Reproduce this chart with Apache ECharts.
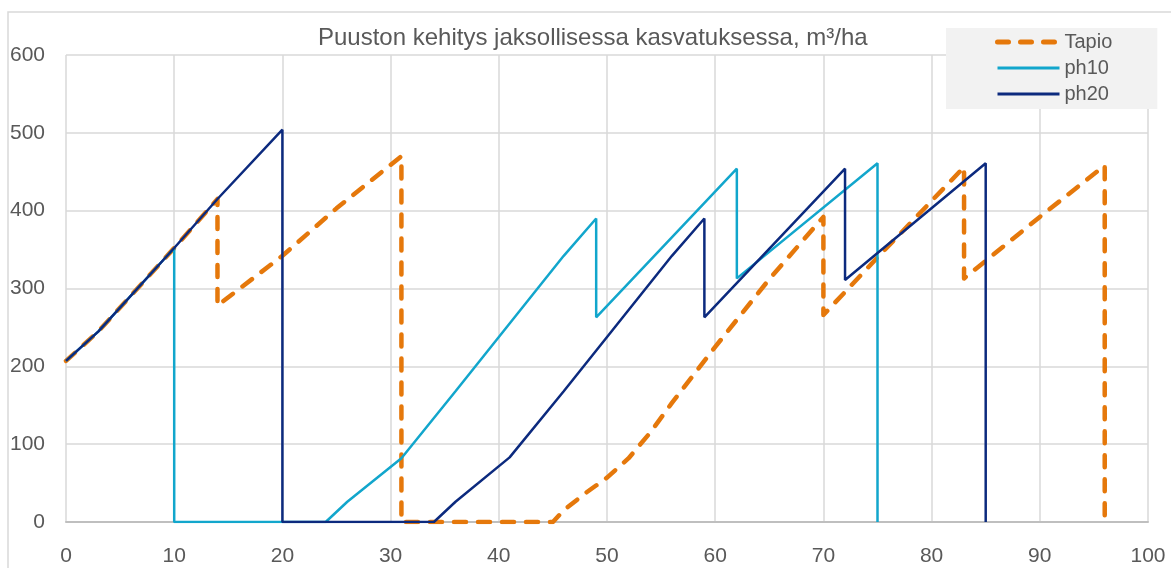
<!DOCTYPE html>
<html>
<head>
<meta charset="utf-8">
<script src="https://cdn.jsdelivr.net/npm/echarts@6/dist/echarts.min.js"></script>
<style>
  html, body { margin: 0; padding: 0; background: #fff; }
  #chart { width: 1171px; height: 568px; }
</style>
</head>
<body>
<div id="chart"></div>
<script>
// [vuosi, m3/ha]
const tapio = [
  [0, 207], [3, 245], [10, 352], [14, 415], [14, 278], [20, 342], [25, 403], [31, 470], [31, 0],
  [45, 0], [46, 15], [48, 37], [50, 57], [52, 82], [54, 115], [56, 153], [60, 225], [65, 312],
  [70, 392], [70, 266], [75, 340], [83, 456], [83, 313], [90, 392], [96, 458], [96, 0]
];
const ph10 = [
  [0, 207], [3, 245], [10, 352], [10, 0], [24, 0], [26, 26], [31, 82], [36, 168], [41, 255],
  [46, 342], [49, 390], [49, 263], [62, 454], [62, 313], [75, 461], [75, 0]
];
const ph20 = [
  [0, 207], [3, 245], [10, 352], [14, 415], [20, 504], [20, 0], [34, 0], [36, 26], [41, 83],
  [46, 168], [51, 255], [56, 342], [59, 390], [59, 263], [72, 454], [72, 311], [85, 461], [85, 0]
];
const seriesNames = ['Tapio', 'ph10', 'ph20'];
const title = 'Puuston kehitys jaksollisessa kasvatuksessa, m³/ha';

const FONT = '"Liberation Sans", "DejaVu Sans", sans-serif';
const COLORS = { text: '#595959', grid: '#d9d9d9', axis: '#bfbfbf', tapio: '#e5780b', ph10: '#12a6cc', ph20: '#0c2a7e' };

const chart = echarts.init(document.getElementById('chart'), null, { renderer: 'canvas' });
chart.setOption({
  backgroundColor: '#fff',
  animation: false,
  textStyle: { fontFamily: FONT },
  graphic: [{
    type: 'rect', z: -10, silent: true,
    shape: { x: 8, y: 12, width: 1200, height: 600 },
    style: { fill: 'none', stroke: COLORS.grid, lineWidth: 1.5 }
  }],
  title: {
    text: title, left: 318, top: 26, padding: 0,
    textStyle: { fontFamily: FONT, fontSize: 24, fontWeight: 'normal', color: COLORS.text }
  },
  legend: {
    data: [
      { name: seriesNames[0], lineStyle: { width: 5, type: [11, 12], cap: 'round' } },
      { name: seriesNames[1], lineStyle: { width: 3 } },
      { name: seriesNames[2], lineStyle: { width: 3 } }
    ],
    orient: 'vertical', left: 946, top: 28,
    backgroundColor: '#f2f2f2', padding: [4, 45, 5, 49],
    itemWidth: 62, itemHeight: 14, itemGap: 6,
    itemStyle: { opacity: 0 },
    textStyle: { fontFamily: FONT, fontSize: 20, color: COLORS.text, lineHeight: 20 }
  },
  grid: { left: 66, right: 23, top: 55, bottom: 46 },
  xAxis: {
    type: 'value', min: 0, max: 100, interval: 10,
    axisLine: { show: true, onZero: true, lineStyle: { color: COLORS.axis, width: 2 } },
    axisTick: { show: false },
    axisLabel: { color: COLORS.text, fontSize: 21, margin: 24, fontFamily: FONT },
    splitLine: { show: true, lineStyle: { color: COLORS.grid, width: 1.5 } }
  },
  yAxis: {
    type: 'value', min: 0, max: 600, interval: 100,
    axisLine: { show: false },
    axisTick: { show: false },
    axisLabel: { color: COLORS.text, fontSize: 21, margin: 21, fontFamily: FONT },
    splitLine: { show: true, lineStyle: { color: COLORS.grid, width: 1.5 } }
  },
  series: [
    {
      name: 'Tapio', type: 'line', data: tapio, symbol: 'none', z: 3,
      itemStyle: { color: COLORS.tapio },
      lineStyle: { color: COLORS.tapio, width: 4.5, type: [12, 12], cap: 'round', join: 'round' }
    },
    {
      name: 'ph10', type: 'line', data: ph10, symbol: 'none', z: 4,
      itemStyle: { color: COLORS.ph10 },
      lineStyle: { color: COLORS.ph10, width: 2.5 }
    },
    {
      name: 'ph20', type: 'line', data: ph20, symbol: 'none', z: 5,
      itemStyle: { color: COLORS.ph20 },
      lineStyle: { color: COLORS.ph20, width: 2.5 }
    }
  ]
});
</script>
</body>
</html>
